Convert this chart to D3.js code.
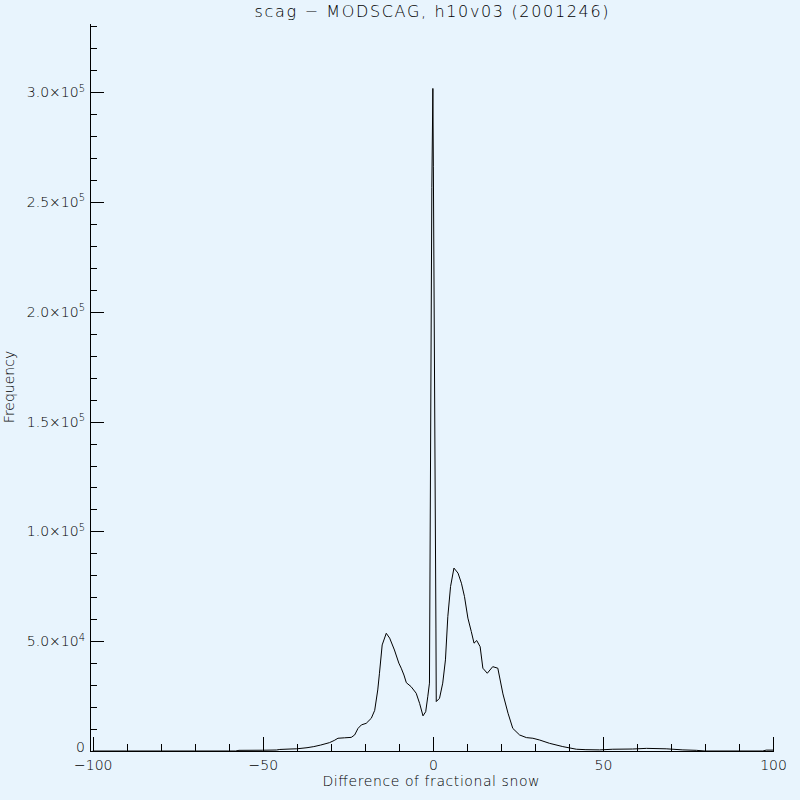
<!DOCTYPE html>
<html>
<head>
<meta charset="utf-8">
<script src="https://cdn.jsdelivr.net/npm/d3@7"></script>
<style>
  html, body { margin: 0; padding: 0; background: #e8f4fd; }
  svg { display: block; }
  text { font-family: "DejaVu Sans", sans-serif; font-weight: 200; fill: #000; }
</style>
</head>
<body>
<div id="chart"></div>
<script>
// histogram of difference in fractional snow (scag - MODSCAG)
const diff = [-100, -90, -80, -70, -60, -58, -57, -50, -46, -45, -42, -40, -37, -35, -33,
  -30.4, -29, -27.9, -26, -24, -23, -22, -21, -19.6, -18.1, -17.1, -16.2, -15.7, -14.9,
  -13.7, -12.7, -11.3, -10, -9.3, -8.5, -7.8, -6.4, -4.9, -3.9, -2.9, -2.1, -1.5, -1,
  -0.3, 0, 0.15, 0.9, 1, 1.96, 2.9, 3.7, 4.4, 5.2, 6.2, 7.4, 8.4, 9.3, 10.3, 11.3, 12.1,
  12.9, 13.9, 14.7, 16, 17.6, 19.1, 20.6, 22.1, 23.5, 25.5, 27.5, 29.4, 31.4, 34.3, 38.2,
  42.2, 45, 49, 52.9, 58.7, 62.8, 68.6, 73.5, 77.5, 80, 90, 97, 98, 100]
const freq = [0, 0, 0, 0, 0, 0, 300, 350, 450, 700, 900, 1000, 1500, 2000, 2700,
  3800, 4800, 5800, 6000, 6200, 7300, 10300, 11900, 12600, 14900, 18500, 27800, 35400, 48300,
  53600, 51400, 46000, 40000, 37700, 34600, 31100, 29300, 26300, 21700, 16000, 17900, 24700, 30900,
  256700, 301700, 266000, 56000, 22500, 24000, 30900, 41500, 61200, 74900, 83300, 81000, 76400, 70300, 60500, 54400, 49100,
  50300, 47500, 37700, 35400, 38400, 37700, 26000, 17200, 10300, 7300, 6100, 5800, 5000, 3500, 2000,
  800, 600, 500, 800, 900, 1200, 1000, 500, 300, 0, 0, 0, 400, 400]

const xMajor = [-100, -50, 0, 50, 100]
const xMinor = d3.range(-100, 101, 10)
const yMajor = [0, 50000, 100000, 150000, 200000, 250000, 300000]
const yMinor = d3.range(0, 330001, 10000)

const titleText = "scag \u2212 MODSCAG, h10v03 (2001246)"
const xTitle = "Difference of fractional snow"
const yTitle = "Frequency"

const width = 800, height = 800
const plotLeft = 90, plotRight = 773, plotTop = 23, plotBottom = 751

const svg = d3.select("#chart").append("svg").attr("width", width).attr("height", height)
svg.append("rect").attr("width", width).attr("height", height).attr("fill", "#e8f4fd")

const x = d3.scaleLinear().domain([-100.8, 100]).range([plotLeft, plotRight])
const y = d3.scaleLinear().domain([0, 331500]).range([plotBottom, plotTop])

// x axis: minor then major ticks pointing up
svg.append("g")
  .attr("transform", "translate(0," + plotBottom + ")")
  .call(d3.axisBottom(x).tickValues(xMinor).tickSizeInner(-7).tickSizeOuter(0).tickFormat(""))
  .call(g => g.select(".domain").remove())
const xAxis = svg.append("g")
  .attr("transform", "translate(0," + plotBottom + ")")
  .call(d3.axisBottom(x).tickValues(xMajor).tickSizeInner(-14).tickSizeOuter(0).tickPadding(9))
xAxis.selectAll("text").attr("font-size", 14).attr("font-family", "DejaVu Sans")

// y axis
svg.append("g")
  .attr("transform", "translate(" + plotLeft + ",0)")
  .call(d3.axisLeft(y).tickValues(yMinor).tickSizeInner(-7).tickSizeOuter(0).tickFormat(""))
  .call(g => g.select(".domain").remove())
const yAxis = svg.append("g")
  .attr("transform", "translate(" + plotLeft + ",0)")
  .call(d3.axisLeft(y).tickValues(yMajor).tickSizeInner(-14).tickSizeOuter(0).tickPadding(5).tickFormat(""))

yAxis.selectAll(".tick text").each(function(d) {
  const t = d3.select(this).attr("font-size", 14).attr("font-family", "DejaVu Sans")
  if (d === 0) {
    t.attr("dy", "0.05em").text("0")
    return
  }
  const e = Math.floor(Math.log10(d))
  const m = (d / Math.pow(10, e)).toFixed(1)
  t.append("tspan").text(m + "\u00d710")
  t.append("tspan").attr("font-size", 10).attr("dy", "-0.55em").text(e)
})

svg.selectAll(".domain, .tick line").attr("stroke", "#000").attr("shape-rendering", "crispEdges")

// data line
const line = d3.line().x((d, i) => x(diff[i])).y(d => y(d))
svg.append("path")
  .datum(freq)
  .attr("fill", "none")
  .attr("stroke", "#000")
  .attr("stroke-width", 1)
  .attr("d", line)

// titles
svg.append("text")
  .attr("x", (plotLeft + plotRight) / 2).attr("y", 17)
  .attr("text-anchor", "middle").attr("font-size", 16)
  .attr("textLength", 354).attr("lengthAdjust", "spacing")
  .text(titleText)

svg.append("text")
  .attr("x", 431).attr("y", 786)
  .attr("text-anchor", "middle").attr("font-size", 14)
  .attr("textLength", 217).attr("lengthAdjust", "spacing")
  .text(xTitle)

svg.append("text")
  .attr("transform", "translate(14,387) rotate(-90)")
  .attr("text-anchor", "middle").attr("font-size", 14)
  .text(yTitle)
</script>
</body>
</html>
